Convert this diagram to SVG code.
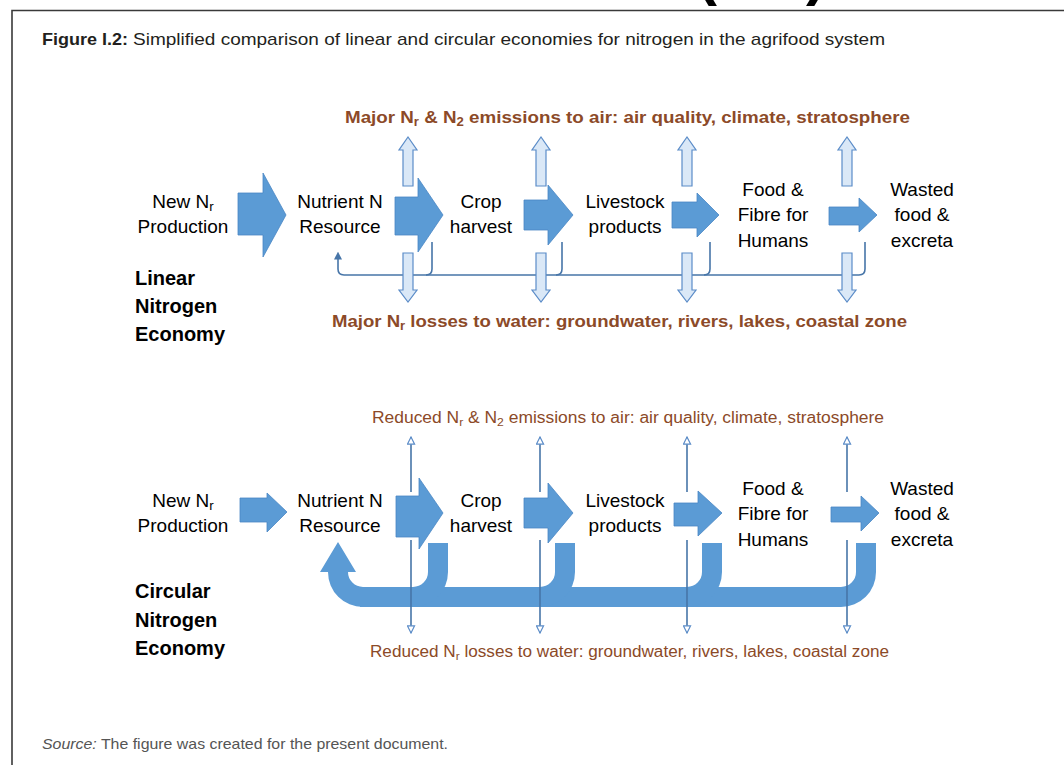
<svg xmlns="http://www.w3.org/2000/svg" xmlns:xlink="http://www.w3.org/1999/xlink" width="1064" height="765" viewBox="0 0 1064 765">
<style>
.lbl{font-family:"Liberation Sans",Arial,sans-serif;font-size:19px;fill:#000;text-anchor:middle}
.sec{font-family:"Liberation Sans",Arial,sans-serif;font-size:20px;font-weight:bold;fill:#000}
.brB{font-family:"Liberation Sans",Arial,sans-serif;font-size:17px;font-weight:bold;fill:#8c4a28}
.brR{font-family:"Liberation Sans",Arial,sans-serif;font-size:16px;fill:#8c4a28}
.sub{font-size:70%}
.big{fill:#5b9bd5;stroke:#4a87c4;stroke-width:0.8}
.band{fill:#5b9bd5;stroke:none}
.lite{fill:#dae8f7;stroke:#5b8cc8;stroke-width:1.2}
.thin{fill:none;stroke:#4775a8;stroke-width:1.6}
.frame{stroke:#3a3a3a;stroke-width:1.6;fill:none}
</style>
<defs>
<path id="upArrow" d="M-5,186 V150 H-9 L0,137 L9,150 H5 V186 Z"/>
<path id="downArrow" d="M-5,253 H5 V290 H9 L0,302 L-9,290 H-5 Z"/>
<marker id="openHead" viewBox="0 0 10 10" refX="9" refY="5" markerWidth="9" markerHeight="9" markerUnits="userSpaceOnUse" orient="auto">
<path d="M1,1 L9,5 L1,9 Z" fill="#ffffff" stroke="#5b8cc8" stroke-width="1.3"/>
</marker>
<marker id="fillHead" viewBox="0 0 10 10" refX="7" refY="5" markerWidth="8" markerHeight="8" markerUnits="userSpaceOnUse" orient="auto">
<path d="M0,0 L10,5 L0,10 Z" fill="#4775a8"/>
</marker>
</defs>
<rect width="1064" height="765" fill="#ffffff"/>
<g id="frame">
<path class="frame" d="M12,765 V10.5 H1064"/>
<text x="697" y="-6" font-family="Liberation Sans,Arial,sans-serif" font-size="60" font-weight="bold" fill="#000">(</text>
<text x="806" y="-6" font-family="Liberation Sans,Arial,sans-serif" font-size="60" font-weight="bold" fill="#000">)</text>
</g>
<g id="title">
<text x="42" y="45" font-family="Liberation Sans,Arial,sans-serif" font-size="17" font-weight="bold" fill="#231f20" textLength="86" lengthAdjust="spacingAndGlyphs">Figure I.2:</text>
<text x="133" y="45" font-family="Liberation Sans,Arial,sans-serif" font-size="17" fill="#231f20" textLength="752" lengthAdjust="spacingAndGlyphs">Simplified comparison of linear and circular economies for nitrogen in the agrifood system</text>
</g>

<!-- LINEAR -->
<g id="linear-air">
<text class="brB" x="345" y="123" textLength="565" lengthAdjust="spacingAndGlyphs">Major N<tspan class="sub" dy="3">r</tspan><tspan dy="-3"> &amp; N</tspan><tspan class="sub" dy="3">2</tspan><tspan dy="-3"> emissions to air: air quality, climate, stratosphere</tspan></text>
</g>
<g id="linear-water">
<text class="brB" x="332" y="327" textLength="575" lengthAdjust="spacingAndGlyphs">Major N<tspan class="sub" dy="3">r</tspan><tspan dy="-3"> losses to water: groundwater, rivers, lakes, coastal zone</tspan></text>
</g>
<g id="linear-title">
<text class="sec" x="135" y="285">Linear</text>
<text class="sec" x="135" y="313">Nitrogen</text>
<text class="sec" x="135" y="341">Economy</text>
</g>
<g id="lin-new"><text class="lbl" x="183" y="208">New N<tspan class="sub" dy="3">r</tspan></text><text class="lbl" x="183" y="233">Production</text></g>
<g id="lin-nutrient"><text class="lbl" x="340" y="208">Nutrient N</text><text class="lbl" x="340" y="233">Resource</text></g>
<g id="lin-crop"><text class="lbl" x="481" y="208">Crop</text><text class="lbl" x="481" y="233">harvest</text></g>
<g id="lin-livestock"><text class="lbl" x="625" y="208">Livestock</text><text class="lbl" x="625" y="233">products</text></g>
<g id="lin-food"><text class="lbl" x="773" y="196">Food &amp;</text><text class="lbl" x="773" y="221">Fibre for</text><text class="lbl" x="773" y="247">Humans</text></g>
<g id="lin-waste"><text class="lbl" x="922" y="196">Wasted</text><text class="lbl" x="922" y="221">food &amp;</text><text class="lbl" x="922" y="247">excreta</text></g>

<g id="linear-connectors">
<path class="thin" d="M865,242 V269 Q865,275 859,275 H344 Q338,275 338,269 V254" marker-end="url(#fillHead)"/>
<path class="thin" d="M432,242 V269 Q432,275 426,275"/>
<path class="thin" d="M562,242 V269 Q562,275 556,275"/>
<path class="thin" d="M710,242 V269 Q710,275 704,275"/>
<polygon class="big" points="238,193 263,193 263,173 286,215 263,257 263,235 238,235"/>
<polygon class="big" points="395,197 418,197 418,178 443,215 418,252 418,235 395,235"/>
<polygon class="big" points="524,200 548,200 548,185 573,215 548,245 548,230 524,230"/>
<polygon class="big" points="672,202 697,202 697,193 719,215 697,237 697,228 672,228"/>
<polygon class="big" points="829,207 859,207 859,198 877,215 859,232 859,225 829,225"/>
<use href="#upArrow" class="lite" x="408"/>
<use href="#upArrow" class="lite" x="541"/>
<use href="#upArrow" class="lite" x="687"/>
<use href="#upArrow" class="lite" x="847"/>
<use href="#downArrow" class="lite" x="408"/>
<use href="#downArrow" class="lite" x="541"/>
<use href="#downArrow" class="lite" x="687"/>
<use href="#downArrow" class="lite" x="847"/>
</g>

<!-- CIRCULAR -->
<g id="circular-air">
<text class="brR" x="372" y="423" textLength="512" lengthAdjust="spacingAndGlyphs">Reduced N<tspan class="sub" dy="3">r</tspan><tspan dy="-3"> &amp; N</tspan><tspan class="sub" dy="3">2</tspan><tspan dy="-3"> emissions to air: air quality, climate, stratosphere</tspan></text>
</g>
<g id="circular-water">
<text class="brR" x="370" y="657" textLength="519" lengthAdjust="spacingAndGlyphs">Reduced N<tspan class="sub" dy="3">r</tspan><tspan dy="-3"> losses to water: groundwater, rivers, lakes, coastal zone</tspan></text>
</g>
<g id="circular-title">
<text class="sec" x="135" y="598">Circular</text>
<text class="sec" x="135" y="627">Nitrogen</text>
<text class="sec" x="135" y="655">Economy</text>
</g>
<g id="cir-new"><text class="lbl" x="183" y="507">New N<tspan class="sub" dy="3">r</tspan></text><text class="lbl" x="183" y="532">Production</text></g>
<g id="cir-nutrient"><text class="lbl" x="340" y="507">Nutrient N</text><text class="lbl" x="340" y="532">Resource</text></g>
<g id="cir-crop"><text class="lbl" x="481" y="507">Crop</text><text class="lbl" x="481" y="532">harvest</text></g>
<g id="cir-livestock"><text class="lbl" x="625" y="507">Livestock</text><text class="lbl" x="625" y="532">products</text></g>
<g id="cir-food"><text class="lbl" x="773" y="495">Food &amp;</text><text class="lbl" x="773" y="520">Fibre for</text><text class="lbl" x="773" y="546">Humans</text></g>
<g id="cir-waste"><text class="lbl" x="922" y="495">Wasted</text><text class="lbl" x="922" y="520">food &amp;</text><text class="lbl" x="922" y="546">excreta</text></g>

<g id="circular-connectors">
<path class="band" d="M338,542 L356,572 L348,572 A15,15 0 0 0 363,587 H440 V607 H363 A35,35 0 0 1 328,572 L320,572 Z"/>
<path class="band" d="M856,543 H876 V572 A35,35 0 0 1 841,607 H680 V587 H841 A15,15 0 0 0 856,572 Z"/>
<path class="band" d="M702,543 H722 V572 A35,35 0 0 1 687,607 H530 V587 H687 A15,15 0 0 0 702,572 Z"/>
<path class="band" d="M555,543 H575 V572 A35,35 0 0 1 540,607 H400 V587 H540 A15,15 0 0 0 555,572 Z"/>
<path class="band" d="M428,543 H448 V572 A35,35 0 0 1 413,607 H360 V587 H413 A15,15 0 0 0 428,572 Z"/>
<polygon class="big" points="240,498 267,498 267,493 287,512 267,532 267,522 240,522"/>
<polygon class="big" points="396,496 419,496 419,478 443,513 419,549 419,537 396,537"/>
<polygon class="big" points="524,498 548,498 548,483 573,513 548,543 548,528 524,528"/>
<polygon class="big" points="674,503 698,503 698,491 722,513 698,536 698,526 674,526"/>
<polygon class="big" points="831,507 861,507 861,496 879,513 861,531 861,522 831,522"/>
<path class="thin" d="M411,492 V437" marker-end="url(#openHead)"/>
<path class="thin" d="M540,492 V437" marker-end="url(#openHead)"/>
<path class="thin" d="M687,492 V437" marker-end="url(#openHead)"/>
<path class="thin" d="M847,492 V437" marker-end="url(#openHead)"/>
<path class="thin" d="M411,540 V633" marker-end="url(#openHead)"/>
<path class="thin" d="M540,540 V633" marker-end="url(#openHead)"/>
<path class="thin" d="M687,540 V633" marker-end="url(#openHead)"/>
<path class="thin" d="M847,540 V633" marker-end="url(#openHead)"/>
</g>

<g id="source">
<text x="42" y="749" font-family="Liberation Sans,Arial,sans-serif" font-size="14.5" fill="#555555" textLength="406" lengthAdjust="spacingAndGlyphs"><tspan font-style="italic">Source:</tspan> The figure was created for the present document.</text>
</g>
</svg>
